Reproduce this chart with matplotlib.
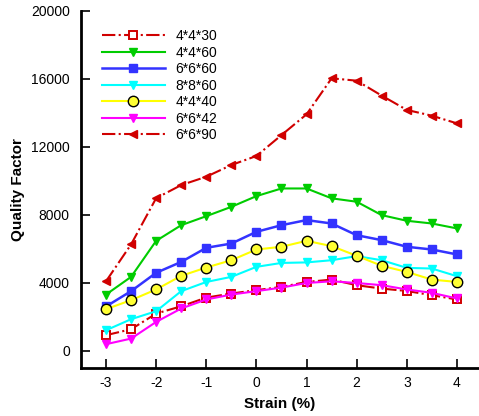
import matplotlib
matplotlib.use("Agg")
import matplotlib.pyplot as plt

plt.rcParams['font.family'] = ['Liberation Sans', 'DejaVu Sans']
plt.rcParams['axes.unicode_minus'] = False

strain = [-3, -2.5, -2, -1.5, -1, -0.5, 0, 0.5, 1, 1.5, 2, 2.5, 3, 3.5, 4]

q_4430 = [930, 1280, 2200, 2630, 3140, 3380, 3580, 3770, 4060, 4200, 3870, 3670, 3530, 3280, 3030]
q_4460 = [3320, 4360, 6480, 7400, 7930, 8480, 9110, 9560, 9560, 8980, 8780, 7990, 7660, 7500, 7210]
q_6660 = [2620, 3520, 4600, 5240, 6070, 6320, 7010, 7400, 7700, 7500, 6810, 6520, 6130, 5970, 5680]
q_8860 = [1220, 1870, 2340, 3520, 4060, 4360, 4950, 5180, 5210, 5340, 5580, 5340, 4890, 4850, 4400]
q_4440 = [2460, 2990, 3620, 4420, 4910, 5340, 5970, 6130, 6480, 6170, 5600, 5010, 4650, 4200, 4060]
q_6642 = [400, 730, 1710, 2500, 3030, 3320, 3520, 3730, 4000, 4100, 4000, 3870, 3620, 3420, 3090]
q_6690 = [4100, 6270, 8990, 9760, 10250, 10940, 11470, 12700, 13920, 16040, 15900, 15020, 14180, 13840, 13390]

red = '#d00000'

fig = plt.figure(figsize=(4.79, 4.16), dpi=100)
ax = fig.add_axes([0.169, 0.1154, 0.831, 0.8582])

ax.plot(strain, q_4430, color=red, linestyle='-.', linewidth=1.5, marker='s',
        markersize=6, markerfacecolor='white', markeredgecolor=red,
        markeredgewidth=1.4, label='4*4*30')
ax.plot(strain, q_4460, color='#00cc00', linewidth=1.5, marker='v',
        markersize=6, label='4*4*60')
ax.plot(strain, q_6660, color='#3333ff', linewidth=1.8, marker='s',
        markersize=5.5, label='6*6*60')
ax.plot(strain, q_8860, color='#00ffff', linewidth=1.5, marker='v',
        markersize=6, label='8*8*60')
ax.plot(strain, q_4440, color='#ffff00', linewidth=1.5, marker='o',
        markersize=7.5, markerfacecolor='#ffff33', markeredgecolor='black',
        markeredgewidth=1.0, label='4*4*40')
ax.plot(strain, q_6642, color='#ff00ff', linewidth=1.5, marker='v',
        markersize=6, label='6*6*42')
ax.plot(strain, q_6690, color=red, linestyle='-.', linewidth=1.5, marker='<',
        markersize=6, label='6*6*90')

ax.set_xlim(-3.5, 4.44)
ax.set_ylim(-1000, 20000)
ax.set_xticks([-3, -2, -1, 0, 1, 2, 3, 4])
ax.set_yticks([0, 4000, 8000, 12000, 16000, 20000])

for side in ['top', 'right']:
    ax.spines[side].set_visible(False)
for side in ['left', 'bottom']:
    ax.spines[side].set_linewidth(2)

ax.tick_params(direction='in', length=6.5, width=1.2, labelsize=10)
ax.tick_params(axis='x', pad=6)
ax.tick_params(axis='y', pad=8)
ax.set_xlabel('Strain (%)', fontsize=11, fontweight='bold', labelpad=5)
ax.set_ylabel('Quality Factor', fontsize=11, fontweight='bold', labelpad=4)

ax.legend(loc='upper left', bbox_to_anchor=(0.025, 0.98), frameon=False,
          fontsize=10, handlelength=4.5, handletextpad=0.8,
          labelspacing=0.18, borderaxespad=0.4)

fig.savefig('out.png', dpi=100)
